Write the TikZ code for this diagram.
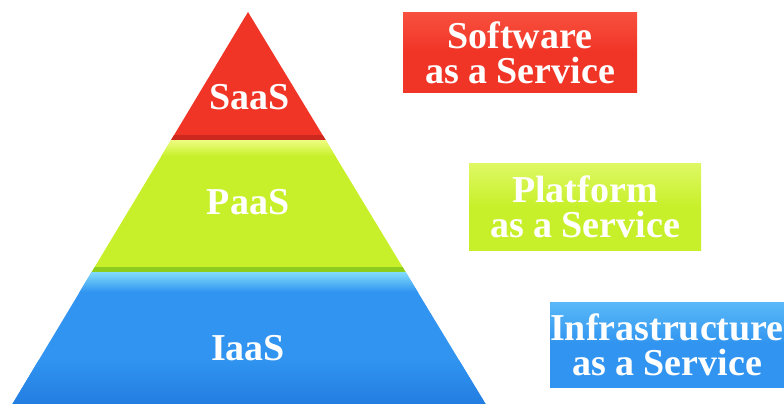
\documentclass[tikz,border=0pt]{standalone}
\usepackage{fontspec}
\setmainfont{Liberation Serif}
\definecolor{sred}{RGB}{240,52,38}
\definecolor{sredlight}{RGB}{248,80,62}
\definecolor{sreddark}{RGB}{205,40,30}
\definecolor{pgreen}{RGB}{200,240,42}
\definecolor{pgreenlight}{RGB}{238,252,130}
\definecolor{pgreenbox}{RGB}{222,248,100}
\definecolor{pgreendark}{RGB}{140,205,30}
\definecolor{iblue}{RGB}{48,148,240}
\definecolor{ibluelight}{RGB}{130,220,252}
\definecolor{iblueboxlight}{RGB}{90,185,248}
\definecolor{ibluedark}{RGB}{35,125,225}
\tikzset{
  lbl/.style={text=white, font=\bfseries\fontsize{38}{35}\selectfont, inner sep=0pt},
  lbox/.style={text=white, font=\bfseries\fontsize{38}{35}\selectfont, align=center,
    inner sep=0pt, minimum width=232pt},
}
\begin{document}
\begin{tikzpicture}[x=1pt,y=-1pt]
\useasboundingbox (0,0) rectangle (784,404);
% coordinates of the pyramid
\coordinate (apex) at (248,12);
\coordinate (l1) at (171.1,140); \coordinate (r1) at (325.6,140);
\coordinate (l2) at (91.7,272);  \coordinate (r2) at (405.6,272);
\coordinate (l3) at (12.4,404);  \coordinate (r3) at (485.6,404);
% SaaS layer
\fill[sred] (apex) -- (r1) -- (l1) -- cycle;
\begin{scope}
  \clip (apex) -- (r1) -- (l1) -- cycle;
  \fill[sreddark] (0,135) rectangle (784,140);
\end{scope}
% PaaS layer
\fill[pgreen] (l1) -- (r1) -- (r2) -- (l2) -- cycle;
\begin{scope}
  \clip (l1) -- (r1) -- (r2) -- (l2) -- cycle;
  \shade[top color=pgreenlight, bottom color=pgreen] (0,140) rectangle (784,156);
  \fill[pgreendark] (0,267) rectangle (784,272);
\end{scope}
% IaaS layer
\fill[iblue] (l2) -- (r2) -- (r3) -- (l3) -- cycle;
\begin{scope}
  \clip (l2) -- (r2) -- (r3) -- (l3) -- cycle;
  \shade[top color=ibluelight, bottom color=iblue] (0,272) rectangle (784,292);
  \shade[top color=iblue, bottom color=ibluedark] (0,360) rectangle (784,404);
\end{scope}
% layer labels
\node[lbl] (saas) at (250,97) {SaaS};
\node[lbl] (paas) at (248,202) {PaaS};
\node[lbl] (iaas) at (248,348) {IaaS};
% legend boxes
\node[lbox, minimum width=234pt, minimum height=79pt,
  top color=sredlight, bottom color=sred, middle color=sred] (sw) at (520,52.5) {Software\\as a Service};
\node[lbox, minimum height=87pt,
  top color=pgreenbox, bottom color=pgreen, middle color=pgreen] (pf) at (585,206.5) {Platform\\as a Service};
\node[lbox, minimum height=85pt,
  top color=iblueboxlight, bottom color=iblue, middle color=iblue] (inf) at (667,344.5) {Infrastructure\\as a Service};
\end{tikzpicture}
\end{document}
